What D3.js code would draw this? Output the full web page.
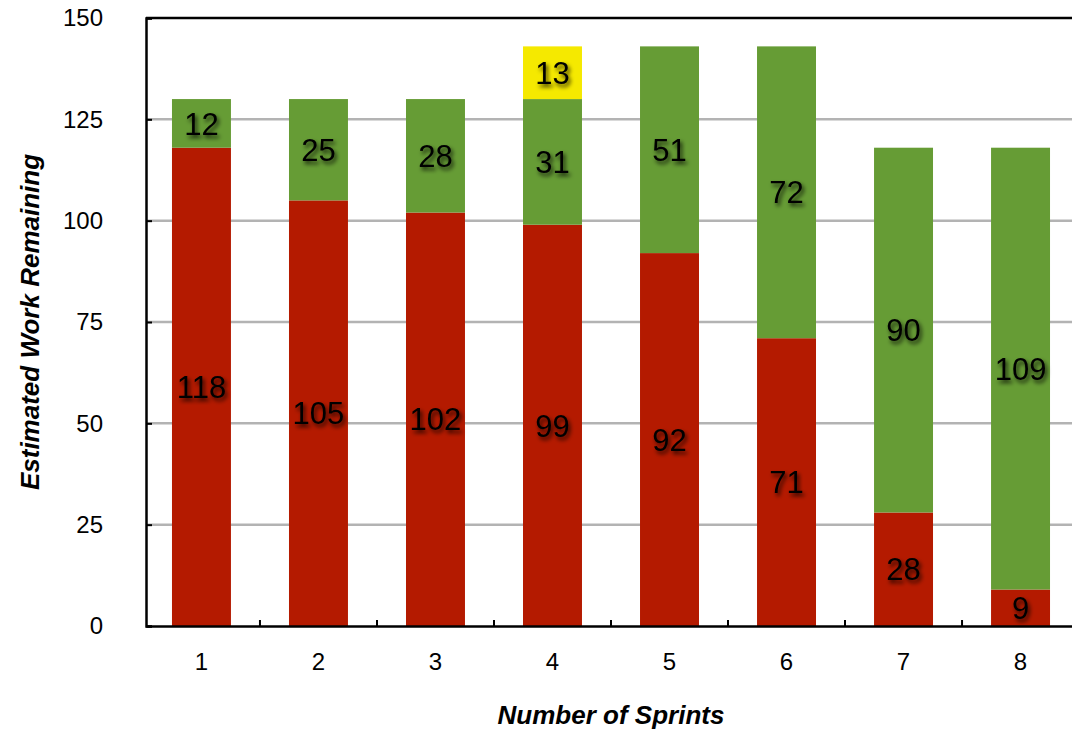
<!DOCTYPE html>
<html>
<head>
<meta charset="utf-8">
<script src="https://cdn.jsdelivr.net/npm/d3@7"></script>
<style>
  body { margin: 0; background: #fff; }
  svg { display: block; font-family: "Liberation Sans", Arial, Helvetica, sans-serif; }
</style>
</head>
<body>
<div id="chart-container"></div>
<script>
// Sprint burndown as stacked bars: remaining (red), done (green), added scope (yellow)
const sprints = ["1", "2", "3", "4", "5", "6", "7", "8"];
const remaining = [118, 105, 102, 99, 92, 71, 28, 9];
const done = [12, 25, 28, 31, 51, 72, 90, 109];
const added = [0, 0, 0, 13, 0, 0, 0, 0];
const yTicks = [0, 25, 50, 75, 100, 125, 150];

const margin = { top: 18, right: -4, bottom: 103, left: 146 },
    width = 1072 - margin.left - margin.right,
    height = 729 - margin.top - margin.bottom;

const svg = d3.select("#chart-container").append("svg")
    .attr("width", 1072)
    .attr("height", 729);

const defs = svg.append("defs");
const shadow = defs.append("filter")
    .attr("id", "shadow")
    .attr("x", "-30%").attr("y", "-30%")
    .attr("width", "160%").attr("height", "160%");
shadow.append("feDropShadow")
    .attr("dx", 2).attr("dy", 3)
    .attr("stdDeviation", 2)
    .attr("flood-color", "#000")
    .attr("flood-opacity", 0.8);

const g = svg.append("g")
    .attr("transform", `translate(${margin.left},${margin.top})`);

// Scales
const x = d3.scaleBand()
    .domain(sprints)
    .range([0, width])
    .paddingInner(0.496)
    .paddingOuter(0.222);

const y = d3.scaleLinear()
    .domain([0, 150])
    .range([height, 0]);

// gridlines
g.append("g")
    .selectAll("line")
    .data(yTicks.filter(d => d > 0 && d < 150))
    .enter().append("line")
    .attr("x1", 0)
    .attr("x2", width)
    .attr("y1", d => y(d))
    .attr("y2", d => y(d))
    .attr("stroke", "#b3b3b3")
    .attr("stroke-width", 2.5);

// top border
g.append("line")
    .attr("x1", 0).attr("x2", width)
    .attr("y1", y(150)).attr("y2", y(150))
    .attr("stroke", "#000")
    .attr("stroke-width", 2.5);

// stacked data
const rows = sprints.map((s, i) => ({ sprint: s, remaining: remaining[i], done: done[i], added: added[i] }));
const keys = ["remaining", "done", "added"];
const colors = { remaining: "#b41a00", done: "#669c35", added: "#f5e900" };
const series = d3.stack().keys(keys)(rows);

const layers = g.selectAll(".layer")
    .data(series)
    .enter().append("g")
    .attr("class", "layer")
    .attr("fill", d => colors[d.key]);

layers.selectAll("rect")
    .data(d => d.filter(v => v[1] > v[0]))
    .enter().append("rect")
    .attr("x", d => x(d.data.sprint))
    .attr("width", x.bandwidth())
    .attr("y", d => y(d[1]))
    .attr("height", d => y(d[0]) - y(d[1]));

// value labels
layers.selectAll("text")
    .data(d => d.filter(v => v[1] > v[0]).map(v => ({ v: v, key: d.key })))
    .enter().append("text")
    .attr("x", d => x(d.v.data.sprint) + x.bandwidth() / 2)
    .attr("y", d => y((d.v[0] + d.v[1]) / 2))
    .attr("dy", "0.36em")
    .attr("text-anchor", "middle")
    .attr("fill", "#000")
    .attr("filter", "url(#shadow)")
    .style("font-size", "31px")
    .text(d => d.v.data[d.key]);

// axes
const yAxis = g.append("g")
    .call(d3.axisLeft(y).tickValues(yTicks).tickSize(-6).tickPadding(43));
yAxis.select(".domain").attr("stroke-width", 2.5);
yAxis.selectAll(".tick line").attr("stroke-width", 2);
yAxis.selectAll(".tick text")
    .style("font-size", "24px")
    .style("font-family", "'Liberation Sans', Arial, sans-serif")
    .attr("fill", "#000");

const xAxis = g.append("g")
    .attr("transform", `translate(0,${height})`)
    .call(d3.axisBottom(x).tickSize(0).tickPadding(27));
xAxis.select(".domain").attr("stroke-width", 2.5);
xAxis.selectAll(".tick text")
    .style("font-size", "24px")
    .style("font-family", "'Liberation Sans', Arial, sans-serif")
    .attr("fill", "#000");

// separator ticks between categories, pointing up
g.append("g")
    .selectAll("line")
    .data(sprints)
    .enter().append("line")
    .attr("x1", d => x(d) + x.bandwidth() + x.step() * x.paddingInner() / 2)
    .attr("x2", d => x(d) + x.bandwidth() + x.step() * x.paddingInner() / 2)
    .attr("y1", height)
    .attr("y2", height - 6)
    .attr("stroke", "#000")
    .attr("stroke-width", 2);

// axis titles
svg.append("text")
    .attr("text-anchor", "middle")
    .attr("x", 611)
    .attr("y", 724)
    .style("font-size", "26px")
    .style("font-weight", "bold")
    .style("font-style", "italic")
    .text("Number of Sprints");

svg.append("text")
    .attr("text-anchor", "middle")
    .attr("transform", "rotate(-90)")
    .attr("x", -322)
    .attr("y", 39)
    .style("font-size", "26px")
    .style("font-weight", "bold")
    .style("font-style", "italic")
    .text("Estimated Work Remaining");
</script>
</body>
</html>
